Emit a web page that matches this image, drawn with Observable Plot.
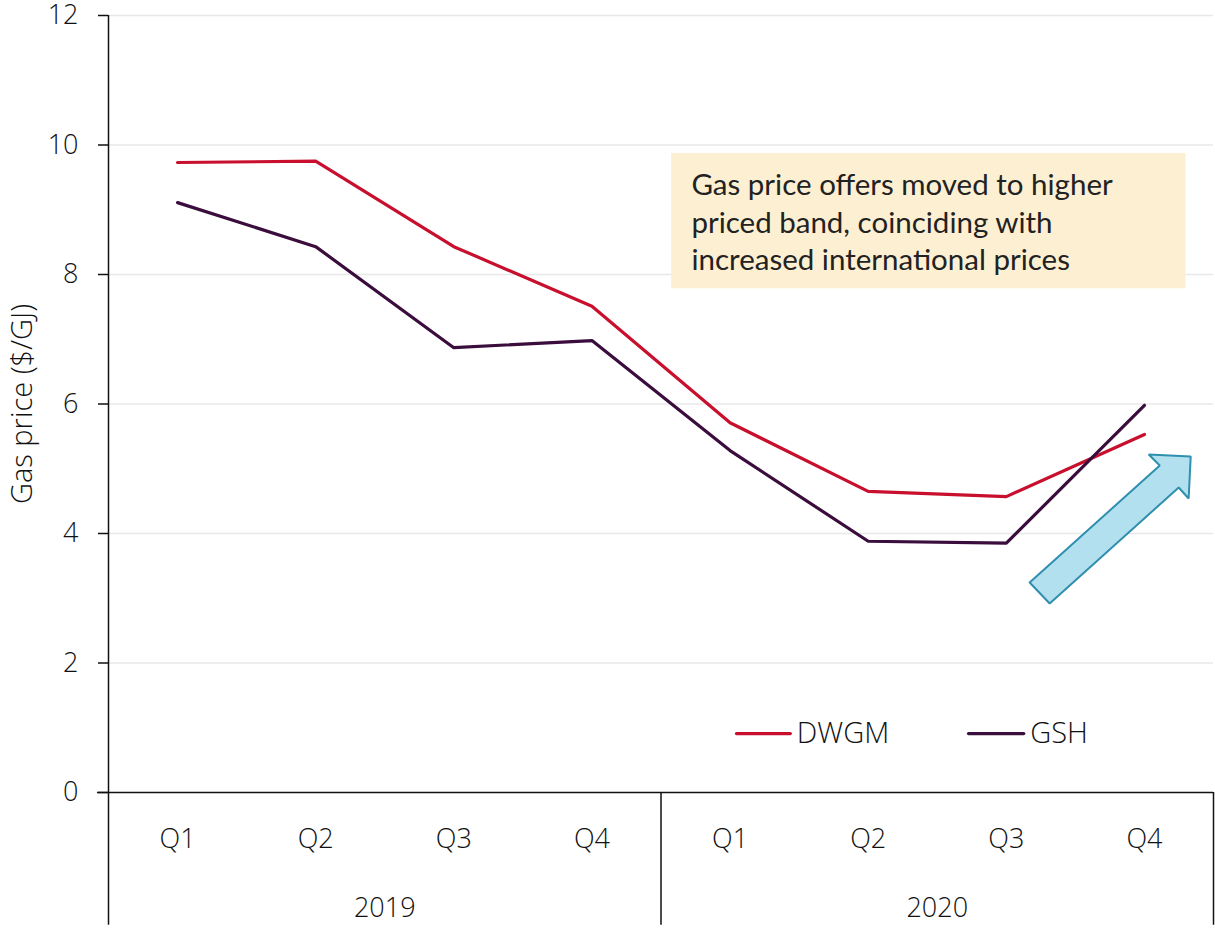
<!DOCTYPE html>
<html>
<head>
<meta charset="utf-8">
<script src="https://cdn.jsdelivr.net/npm/d3@7"></script>
<script src="https://cdn.jsdelivr.net/npm/@observablehq/plot@0.6"></script>
<style>
  html, body { margin: 0; padding: 0; background: #fff; }
  #chart { width: 1215px; height: 930px; }
</style>
</head>
<body>
<div id="chart"></div>
<script>
// ---- data ----
const quarters = ["Q1", "Q2", "Q3", "Q4", "Q1", "Q2", "Q3", "Q4"];
const years = ["2019", "2020"];
const seriesNames = ["DWGM", "GSH"];
const dwgm = [9.73, 9.75, 8.43, 7.51, 5.71, 4.65, 4.57, 5.53];
const gsh = [9.11, 8.43, 6.87, 6.98, 5.28, 3.88, 3.85, 5.98];
const yTicks = [0, 2, 4, 6, 8, 10, 12];
const annotationLines = [
  "Gas price offers moved to higher",
  "priced band, coinciding with",
  "increased international prices"
];
// arrow outline in data units (x = quarter index, y = $/GJ)
const arrowX = [6.169, 7.111, 7.031, 7.335, 7.320, 7.248, 6.314, 6.169];
const arrowY = [3.243, 5.050, 5.220, 5.189, 4.541, 4.710, 2.919, 3.243];

const colors = { DWGM: "#c8102e", GSH: "#3a0d3d" };

// tidy table built from the arrays
const rows = [];
quarters.forEach((q, i) => {
  rows.push({ i, series: "DWGM", value: dwgm[i] });
  rows.push({ i, series: "GSH", value: gsh[i] });
});
const arrow = arrowX.map((x, k) => ({ x, y: arrowY[k] }));
const legend = seriesNames.map((s, k) => ({ s, x1: [4.05, 5.73][k], x2: [4.44, 6.13][k] }));

const font = "'Open Sans', 'Noto Sans', sans-serif";
const fs = 27;

const chart = Plot.plot({
  width: 1215,
  height: 930,
  marginLeft: 108,
  marginRight: 2,
  marginTop: 15,
  marginBottom: 138,
  style: { fontFamily: font, fontSize: fs + "px", fontWeight: 300, color: "#111", background: "#fff", overflow: "visible" },
  x: { type: "linear", domain: [-0.5, 7.5], axis: null },
  y: { domain: [0, 12], ticks: yTicks, label: null },
  marks: [
    Plot.gridY(yTicks.filter(d => d > 0), { stroke: "#e8e8e8", strokeOpacity: 1, strokeWidth: 1.5 }),
    Plot.axisY(yTicks, { tickSize: 10, tickPadding: 20, tickFormat: d3.format("d"), fontSize: fs, fontWeight: 300, stroke: "#111", strokeWidth: 1.5 }),
    Plot.ruleX([-0.5], { y1: 0, y2: 12, stroke: "#111", strokeWidth: 1.5 }),
    Plot.ruleY([0], { x1: -0.58, x2: 7.5, stroke: "#111", strokeWidth: 1.5 }),
    // category separators below axis
    Plot.ruleX([-0.5, 3.5, 7.5], { y1: 0, y2: -2.05, stroke: "#111", strokeWidth: 1.5 }),
    // quarter labels
    Plot.text(quarters, { x: (d, i) => i, y: 0, dy: 47, text: d => d, fontSize: fs, fontWeight: 300, fill: "#111" }),
    // year labels
    Plot.text(years, { x: (d, i) => 1.5 + 4 * i, y: 0, dy: 116, text: d => d, fontSize: fs, fontWeight: 300, fill: "#111" }),
    // y label
    Plot.text(["Gas price ($/GJ)"], { x: -0.5, y: 6, dy: 0, dx: -86, rotate: -90, text: d => d, fontSize: 29, fontWeight: 300, fill: "#111" }),
    // annotation box
    Plot.rect([annotationLines], { x1: 3.577, x2: 7.30, y1: 7.78, y2: 9.87, fill: "#fdf0d2" }),
    Plot.text([annotationLines.join("\n")], { x: 3.72, y: 8.83, text: d => d, textAnchor: "start", lineAnchor: "middle", lineHeight: 1.27, fontSize: 29.5, fontWeight: 400, fontFamily: "Lato, 'Open Sans', sans-serif", fill: "#222" }),
    // series lines
    Plot.line(rows, { x: "i", y: "value", z: "series", stroke: d => colors[d.series], strokeWidth: 3.2, strokeLinejoin: "round" }),
    // arrow
    Plot.line(arrow, { x: "x", y: "y", fill: "#b3e0ee", stroke: "#2f8fae", strokeWidth: 2, strokeLinejoin: "miter" }),
    // legend
    Plot.ruleY(legend, { y: 0.91, x1: "x1", x2: "x2", stroke: d => colors[d.s], strokeWidth: 3.2, strokeLinecap: "round" }),
    Plot.text(legend, { x: "x2", y: 0.91, dx: 6, text: "s", textAnchor: "start", fontSize: 29, fontWeight: 300, fill: "#111" })
  ]
});

document.getElementById("chart").appendChild(chart);
</script>
</body>
</html>
